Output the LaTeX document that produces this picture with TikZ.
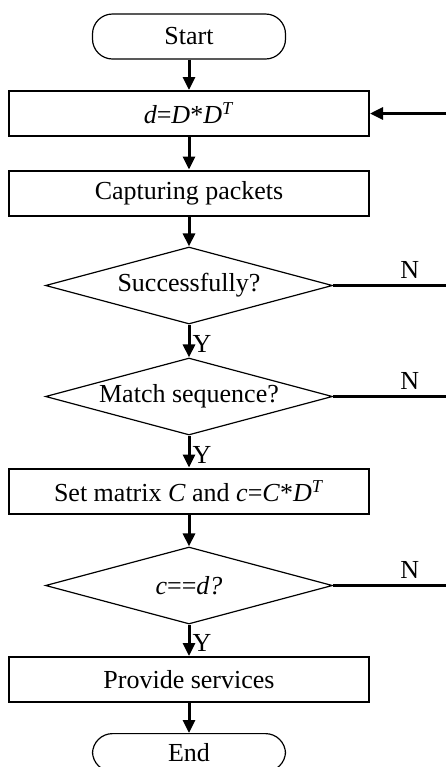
\documentclass[tikz,border=0pt]{standalone}
\usepackage{fontspec}
\setmainfont{Liberation Serif}
\usetikzlibrary{arrows.meta,shapes.geometric}

\begin{document}
\begin{tikzpicture}[
  x=0.5pt,y=0.5pt,
  font=\fontsize{13}{15}\selectfont,
  bx/.style  ={draw,line width=1pt,minimum width=180pt,minimum height=22.5pt,inner sep=0pt},
  term/.style={draw,line width=0.6pt,rounded corners=10pt,minimum width=96.5pt,minimum height=22.5pt,inner sep=0pt},
  dec/.style ={draw,diamond,line width=0.6pt,minimum width=143.5pt,minimum height=38.5pt,inner sep=0pt},
  ar/.style  ={-{Triangle[length=6.5pt,width=6pt]},line width=1.5pt},
  ln/.style  ={line width=1.5pt},
  lb/.style  ={inner sep=1pt}
]
\useasboundingbox (0,0) rectangle (446,-767);

% ======== main column
\node[term] (start) at (189,-36.5) {Start};
\node[bx]   (dd)    at (189,-113.5) {\textit{d}=\textit{D}*\textit{D}\textsuperscript{\textit{T}}};
\node[bx]   (cap)   at (189,-193) {Capturing packets};
\node[dec]  (succ)  at (189,-285.5) {\makebox[0pt]{Successfully?}};
\node[dec]  (match) at (189,-396.5) {\makebox[0pt]{Match sequence?}};
\node[bx]   (setm)  at (189,-491) {Set matrix \textit{C} and \textit{c}=\textit{C}*\textit{D}\textsuperscript{\textit{T}}};
\node[dec]  (ceq)   at (189,-585.5) {\makebox[0pt]{\textit{c}==\textit{d?}}};
\node[bx]   (prov)  at (189,-679.5) {Provide services};
\node[term,minimum height=19pt,anchor=north] (end) at (189,-733) {End};

% ======== forward arrows
\draw[ar] (start.south) -- (dd.north);
\draw[ar] (dd.south) -- (cap.north);
\draw[ar] (cap.south) -- (succ.north);
\draw[ar] (succ.south) -- (match.north) node[lb,pos=0.6,right]{Y};
\draw[ar] (match.south) -- (setm.north) node[lb,pos=0.6,right]{Y};
\draw[ar] (setm.south) -- (ceq.north);
\draw[ar] (ceq.south) -- (prov.north) node[lb,pos=0.6,right]{Y};
\draw[ar] (prov.south) -- (end.north);

% ======== N branches, running off the right edge
\coordinate (n1) at (446,-285.5);
\coordinate (n2) at (446,-396.5);
\coordinate (n3) at (446,-585.5);
\coordinate (back) at (446,-113.5);
\draw[ln] (succ.east) -- (n1) node[lb,pos=0.68,above=2pt]{N};
\draw[ln] (match.east) -- (n2) node[lb,pos=0.68,above=2pt]{N};
\draw[ln] (ceq.east) -- (n3) node[lb,pos=0.68,above=2pt]{N};
\draw[ar] (back) -- (dd.east);
\end{tikzpicture}
\end{document}
